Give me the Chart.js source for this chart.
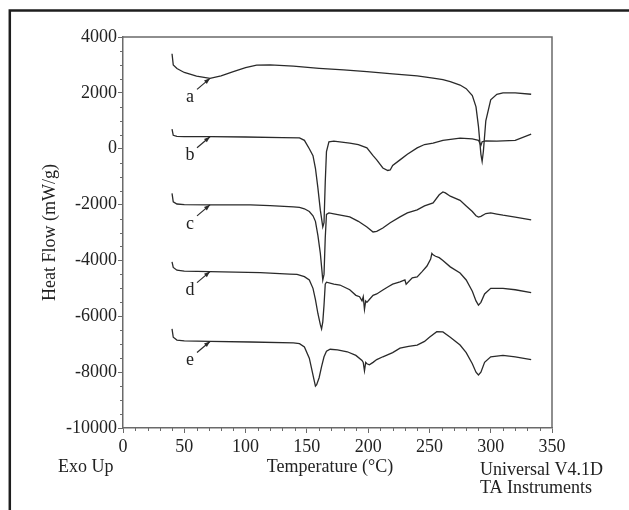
<!DOCTYPE html>
<html>
<head>
<meta charset="utf-8">
<script src="https://cdn.jsdelivr.net/npm/chart.js@4"></script>
<style>
  html, body { margin: 0; padding: 0; background: #fff; }
  canvas { display: block; }
</style>
</head>
<body>
<canvas id="dsc" width="629" height="510"></canvas>
<script>
// DSC curves, temperature in °C, heat flow in mW/g
const curveNames = ['a', 'b', 'c', 'd', 'e'];

const tempA = [40, 41, 44, 50, 60, 71, 80, 90, 100, 109, 120, 139, 160, 180, 199, 220, 240, 253, 261, 267, 275, 280, 285, 288, 290, 292, 293, 294, 296, 300, 305, 310, 320, 333];
const heatA = [3400, 3000, 2870, 2730, 2600, 2520, 2610, 2760, 2900, 2990, 3000, 2960, 2880, 2820, 2760, 2680, 2610, 2530, 2470, 2400, 2280, 2150, 1900, 1500, 800, -200, -450, -100, 1000, 1750, 1950, 2000, 2000, 1950];

const tempB = [40, 41, 44, 50, 71, 100, 130, 144, 148, 152, 155, 157, 159, 161, 163, 164, 165, 166, 168, 172, 185, 192, 199, 204, 207, 212, 216, 218, 220, 226, 232, 240, 246, 253, 261, 275, 285, 290, 292, 293, 296, 305, 320, 333];
const heatB = [700, 480, 440, 430, 430, 420, 400, 390, 300, 0, -250, -700, -1400, -2200, -2800, -2650, -1200, -100, 250, 270, 200, 150, 30, -250, -400, -690, -780, -760, -600, -400, -200, 30, 150, 200, 300, 380, 350, 300, 120, 250, 280, 270, 300, 520];

const tempC = [40, 41, 44, 50, 71, 104, 120, 139, 144, 148, 152, 155, 157, 159, 161, 163, 164, 165, 166, 168, 172, 185, 192, 199, 204, 207, 212, 218, 226, 232, 240, 246, 253, 258, 261, 263, 267, 275, 280, 285, 288, 290, 292, 296, 300, 305, 310, 320, 333];
const heatC = [-1600, -1900, -1980, -2000, -2010, -2010, -2040, -2080, -2100, -2150, -2250, -2400, -2600, -3100, -3750, -4700, -4500, -3200, -2350, -2300, -2330, -2440, -2600, -2800, -2980, -2960, -2840, -2650, -2440, -2300, -2190, -2050, -1940, -1650, -1550, -1580, -1700, -1850, -2050, -2250, -2400, -2450, -2420, -2320, -2300, -2340, -2380, -2450, -2550];

const tempD = [40, 41, 44, 50, 71, 112, 136, 142, 148, 152, 155, 157, 159, 161, 162, 163, 164, 165, 166, 172, 177, 185, 190, 193, 195, 196, 197, 198, 199, 201, 204, 207, 212, 216, 220, 226, 230, 231, 236, 240, 244, 248, 251, 252, 253, 255, 258, 261, 267, 275, 280, 285, 288, 290, 292, 295, 300, 310, 320, 333];
const heatD = [-4050, -4250, -4350, -4380, -4400, -4440, -4490, -4500, -4580, -4700, -5000, -5400, -5900, -6300, -6450, -6200, -5600, -4850, -4780, -4850, -4880, -5050, -5250, -5300, -5450, -5300, -5750, -5450, -5500, -5400, -5250, -5200, -5060, -4950, -4850, -4770, -4700, -4850, -4620, -4590, -4400, -4200, -3950, -3750, -3800, -3850, -3900, -4000, -4230, -4450, -4700, -5100, -5450, -5600, -5500, -5200, -5000, -5000, -5050, -5150];

const tempE = [40, 41, 44, 50, 71, 104, 139, 144, 148, 152, 154, 156, 157, 158, 160, 162, 164, 166, 169, 175, 183, 190, 195, 196, 197, 198, 199, 201, 204, 207, 212, 220, 226, 233, 240, 246, 250, 256, 261, 267, 275, 280, 285, 288, 290, 292, 295, 300, 310, 320, 333];
const heatE = [-6450, -6750, -6850, -6880, -6900, -6920, -6950, -6980, -7100, -7500, -7900, -8300, -8500, -8450, -8200, -7800, -7450, -7250, -7180, -7200, -7270, -7400, -7580, -7650, -7950, -7650, -7700, -7740, -7650, -7550, -7450, -7300, -7140, -7080, -7030, -6900, -6750, -6550, -6560, -6750, -7030, -7300, -7700, -8000, -8100, -8000, -7650, -7450, -7400, -7450, -7550];

// temperature where the a..e arrows touch their curve
const markTemp = 71;

const xTicks = [0, 50, 100, 150, 200, 250, 300, 350];
const yTicks = [4000, 2000, 0, -2000, -4000, -6000, -8000, -10000];

const temps = [tempA, tempB, tempC, tempD, tempE];
const heats = [heatA, heatB, heatC, heatD, heatE];

const serif = '"Liberation Serif", "Times New Roman", serif';
const lineColor = '#2a2a2a';
const axisColor = '#6a6a6a';

function valueAt(points, t) {
  for (let i = 1; i < points.length; i++) {
    if (points[i].x >= t) {
      const p0 = points[i - 1], p1 = points[i];
      return p0.y + (p1.y - p0.y) * (t - p0.x) / (p1.x - p0.x);
    }
  }
  return points[points.length - 1].y;
}

const decor = {
  id: 'decor',
  beforeDraw(chart) {
    const ctx = chart.ctx;
    ctx.save();
    ctx.fillStyle = '#fff';
    ctx.fillRect(0, 0, chart.width, chart.height);
    ctx.restore();
  },
  afterDraw(chart) {
    const { ctx, chartArea: a, scales: { x, y } } = chart;
    ctx.save();

    // outer frame of the figure (only top and left edges are in view)
    ctx.strokeStyle = '#1e1e1e';
    ctx.lineWidth = 2.5;
    ctx.beginPath();
    ctx.moveTo(9.8, chart.height);
    ctx.lineTo(9.8, 10.5);
    ctx.lineTo(chart.width, 10.5);
    ctx.stroke();

    // top and right edges of the plot box
    ctx.strokeStyle = axisColor;
    ctx.lineWidth = 1.5;
    ctx.beginPath();
    ctx.moveTo(a.left, a.top);
    ctx.lineTo(a.right, a.top);
    ctx.lineTo(a.right, a.bottom);
    ctx.stroke();

    // minor ticks
    ctx.lineWidth = 1;
    ctx.beginPath();
    for (let v = -10000; v <= 4000; v += 500) {
      if (v % 2000 === 0) continue;
      const py = Math.round(y.getPixelForValue(v)) + 0.5;
      ctx.moveTo(a.left - 3, py);
      ctx.lineTo(a.left, py);
    }
    for (let t = 0; t <= 350; t += 10) {
      if (t % 50 === 0) continue;
      const px = Math.round(x.getPixelForValue(t)) + 0.5;
      ctx.moveTo(px, a.bottom);
      ctx.lineTo(px, a.bottom + 3);
    }
    ctx.stroke();

    // curve letters with small arrows
    ctx.font = '18px ' + serif;
    ctx.textAlign = 'center';
    ctx.textBaseline = 'middle';
    chart.data.datasets.forEach((ds, i) => {
      const tx = x.getPixelForValue(markTemp);
      const ty = y.getPixelForValue(valueAt(ds.data, markTemp));
      const sx = tx - 13, sy = ty + 11;
      ctx.strokeStyle = lineColor;
      ctx.fillStyle = lineColor;
      ctx.lineWidth = 1.2;
      ctx.beginPath();
      ctx.moveTo(sx, sy);
      ctx.lineTo(tx, ty);
      ctx.stroke();
      const ang = Math.atan2(ty - sy, tx - sx);
      ctx.beginPath();
      ctx.moveTo(tx, ty);
      ctx.lineTo(tx - 6 * Math.cos(ang) + 2.2 * Math.sin(ang), ty - 6 * Math.sin(ang) - 2.2 * Math.cos(ang));
      ctx.lineTo(tx - 6 * Math.cos(ang) - 2.2 * Math.sin(ang), ty - 6 * Math.sin(ang) + 2.2 * Math.cos(ang));
      ctx.closePath();
      ctx.fill();
      ctx.fillStyle = '#222';
      ctx.fillText(curveNames[i], tx - 20, ty + 19);
    });

    // footer texts
    ctx.fillStyle = '#222';
    ctx.textBaseline = 'middle';
    ctx.textAlign = 'left';
    ctx.fillText('Exo Up', 58, 467);
    ctx.fillText('Universal V4.1D', 480, 470);
    ctx.fillText('TA Instruments', 480, 488);
    ctx.textAlign = 'center';
    ctx.fillText('Temperature (°C)', 330, 467);
    ctx.restore();
  }
};

const ctx = document.getElementById('dsc').getContext('2d');
new Chart(ctx, {
  type: 'line',
  data: {
    datasets: curveNames.map((name, i) => ({
      label: name,
      data: temps[i].map((t, j) => ({ x: t, y: heats[i][j] })),
      borderColor: lineColor,
      borderWidth: 1.3,
      pointRadius: 0,
      tension: 0,
      fill: false
    }))
  },
  options: {
    responsive: false,
    animation: false,
    layout: { padding: { top: 37, right: 77, left: 0, bottom: 0 } },
    plugins: {
      legend: { display: false },
      tooltip: { enabled: false }
    },
    scales: {
      x: {
        type: 'linear',
        min: 0,
        max: 350,
        afterBuildTicks: s => { s.ticks = xTicks.map(v => ({ value: v })); },
        afterFit: s => { s.height = 82; },
        ticks: {
          color: '#222',
          font: { family: serif, size: 18 },
          padding: 3,
          maxRotation: 0,
          autoSkip: false,
          callback: v => String(v)
        },
        grid: { drawOnChartArea: false, tickLength: 5, color: axisColor, lineWidth: 1 },
        border: { color: axisColor, width: 1.5 }
      },
      y: {
        type: 'linear',
        min: -10000,
        max: 4000,
        afterBuildTicks: s => { s.ticks = yTicks.map(v => ({ value: v })); },
        afterFit: s => { s.width = 123; },
        ticks: {
          color: '#222',
          font: { family: serif, size: 18 },
          padding: 1,
          autoSkip: false,
          callback: v => String(v)
        },
        grid: { drawOnChartArea: false, tickLength: 5, color: axisColor, lineWidth: 1 },
        border: { color: axisColor, width: 1.5 },
        title: {
          display: true,
          text: 'Heat Flow (mW/g)',
          color: '#222',
          font: { family: serif, size: 18 },
          padding: { top: 39, bottom: 0 }
        }
      }
    }
  },
  plugins: [decor]
});
</script>
</body>
</html>
